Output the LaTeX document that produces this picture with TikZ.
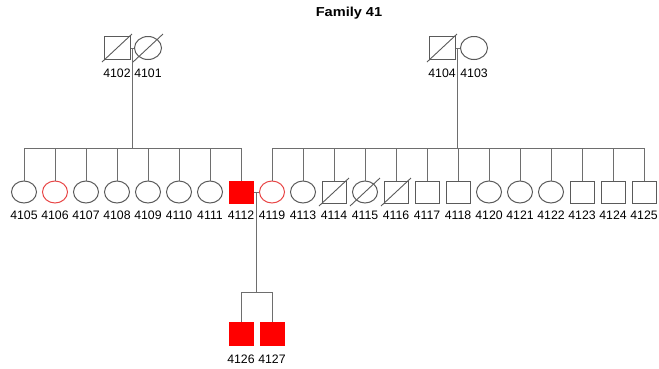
\documentclass[tikz,border=0pt]{standalone}
\usepackage{fontspec}
\setmainfont{Liberation Sans}
\usetikzlibrary{shapes.geometric,calc}
\definecolor{symgray}{RGB}{90,90,90}
\definecolor{linegray}{RGB}{110,110,110}
\definecolor{affred}{RGB}{255,0,0}
\definecolor{carred}{RGB}{232,70,70}
\tikzset{
  ind/.style={draw=symgray, line width=1pt, inner sep=0pt},
  male/.style={ind, rectangle, minimum width=24pt, minimum height=22pt},
  female/.style={ind, ellipse, minimum width=25pt, minimum height=22pt},
  aff/.style={fill=affred, draw=affred},
  carrier/.style={draw=carred},
  lbl/.style={font=\fontsize{12.3}{14}\selectfont, inner sep=0pt},
  conn/.style={draw=linegray, line width=1pt},
  dec/.style={draw=symgray, line width=0.9pt}
}
\newcommand{\deadmark}[1]{\draw[dec] ([shift={(-15,14)}]#1.center) -- ([shift={(15,-14)}]#1.center);}
\begin{document}
\begin{tikzpicture}[x=1pt,y=-1pt]
\useasboundingbox (0,0) rectangle (659,368);
% title
\node[font=\fontsize{13}{15}\selectfont\bfseries] (title) at (349,13) {\scalebox{1.12}[1]{Family 41}};
% generation I
\node[male, minimum width=26pt, minimum height=23pt] (p4102) at (117,48) {};
\node[female, minimum width=27pt, minimum height=23pt] (p4101) at (148,48) {};
\node[male, minimum width=26pt, minimum height=23pt] (p4104) at (442,48) {};
\node[female, minimum width=27pt, minimum height=23pt] (p4103) at (474,48) {};
\node[lbl] (l4102) at (117,73) {4102};
\node[lbl] (l4101) at (148,73) {4101};
\node[lbl] (l4104) at (442,73) {4104};
\node[lbl] (l4103) at (474,73) {4103};
\deadmark{p4102}
\deadmark{p4101}
\deadmark{p4104}
% generation II
\node[female] (p4105) at (24,192) {};
\node[female, carrier] (p4106) at (55,192) {};
\node[female] (p4107) at (86,192) {};
\node[female] (p4108) at (117,192) {};
\node[female] (p4109) at (148,192) {};
\node[female] (p4110) at (179,192) {};
\node[female] (p4111) at (210,192) {};
\node[male, aff] (p4112) at (241,192) {};
\node[female, carrier] (p4119) at (272,192) {};
\node[female] (p4113) at (303,192) {};
\node[male] (p4114) at (334,192) {};
\node[female] (p4115) at (365,192) {};
\node[male] (p4116) at (396,192) {};
\node[male] (p4117) at (427,192) {};
\node[male] (p4118) at (458,192) {};
\node[female] (p4120) at (489,192) {};
\node[female] (p4121) at (520,192) {};
\node[female] (p4122) at (551,192) {};
\node[male] (p4123) at (582,192) {};
\node[male] (p4124) at (613,192) {};
\node[male] (p4125) at (644,192) {};
\deadmark{p4114}
\deadmark{p4115}
\deadmark{p4116}
\foreach \n/\x in {4105/24,4106/55,4107/86,4108/117,4109/148,4110/179,4111/210,4112/241,4119/272,4113/303,4114/334,4115/365,4116/396,4117/427,4118/458,4120/489,4121/520,4122/551,4123/582,4124/613,4125/644}
  \node[lbl] (l\n) at (\x,215) {\n};
% generation III
\node[male, aff, minimum height=23pt] (p4126) at (241,334) {};
\node[male, aff, minimum height=23pt] (p4127) at (272,334) {};
\node[lbl] (l4126) at (241,359) {4126};
\node[lbl] (l4127) at (272,359) {4127};
% marriages and descent
\draw[conn] (p4102.east) -- (p4101.west);
\draw[conn] (p4104.east) -- (p4103.west);
\draw[conn] (p4112.east) -- (p4119.west);
\coordinate (m1) at ($(p4102.east)!0.5!(p4101.west)$);
\coordinate (m2) at ($(p4104.east)!0.5!(p4103.west)$);
\coordinate (m3) at ($(p4112.east)!0.5!(p4119.west)$);
\coordinate (s1) at (m1 |- 0,148);
\coordinate (s2) at (m2 |- 0,148);
\coordinate (s3) at (m3 |- 0,292);
\draw[conn] (m1) -- (s1);
\draw[conn] (m2) -- (s2);
\draw[conn] (m3) -- (s3);
\foreach \n in {4105,4106,4107,4108,4109,4110,4111,4112}
  \draw[conn] (p\n.north) |- (s1);
\foreach \n in {4119,4113,4114,4115,4116,4117,4118,4120,4121,4122,4123,4124,4125}
  \draw[conn] (p\n.north) |- (s2);
\foreach \n in {4126,4127}
  \draw[conn] (p\n.north) |- (s3);
\end{tikzpicture}
\end{document}
